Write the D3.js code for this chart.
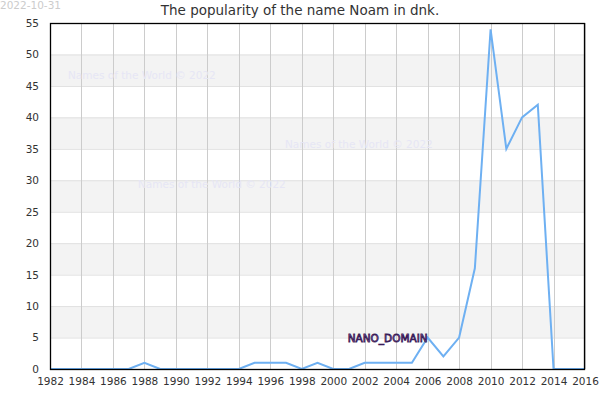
<!DOCTYPE html>
<html>
<head>
<meta charset="utf-8">
<script src="https://cdn.jsdelivr.net/npm/d3@7"></script>
<style>
body { margin: 0; background: #fff; }
svg text { font-family: "DejaVu Sans", sans-serif; }
</style>
</head>
<body>
<div id="chart"></div>
<script>
// values
var years = [1982, 1983, 1984, 1985, 1986, 1987, 1988, 1989, 1990, 1991, 1992, 1993, 1994, 1995, 1996, 1997, 1998, 1999,
  2000, 2001, 2002, 2003, 2004, 2005, 2006, 2007, 2008, 2009, 2010, 2011, 2012, 2013, 2014, 2015, 2016];
var counts = [0, 0, 0, 0, 0, 0, 1, 0, 0, 0, 0, 0, 0, 1, 1, 1, 0, 1,
  0, 0, 1, 1, 1, 1, 5, 2, 5, 16, 54, 35, 40, 42, 0, 0, 0];
var xTicks = d3.range(1982, 2017, 2);
var yTicks = d3.range(0, 56, 5);
var bands = [[5, 10], [15, 20], [25, 30], [35, 40], [45, 50]];
var watermarks = [[68, 75], [285, 144], [138, 184]];

var width = 600, height = 400;
var margin = {top: 23, right: 15, bottom: 31, left: 50};

var svg = d3.select("#chart").append("svg")
  .attr("width", width)
  .attr("height", height);

var x = d3.scaleLinear()
  .domain([1982, 2016])
  .range([margin.left, width - margin.right]);

var y = d3.scaleLinear()
  .domain([0, 55])
  .range([height - margin.bottom, margin.top]);

// shaded bands
svg.append("g").selectAll("rect")
  .data(bands)
  .join("rect")
  .attr("x", margin.left)
  .attr("width", width - margin.right - margin.left)
  .attr("y", function(d) { return y(d[1]); })
  .attr("height", function(d) { return y(d[0]) - y(d[1]); })
  .style("fill", "#f3f3f3");

// horizontal grid
svg.append("g").selectAll("line")
  .data(yTicks)
  .join("line")
  .attr("x1", margin.left)
  .attr("x2", width - margin.right)
  .attr("y1", function(d) { return y(d) + 0.5; })
  .attr("y2", function(d) { return y(d) + 0.5; })
  .style("stroke", "#e0e0e0");

// vertical grid
svg.append("g").selectAll("line")
  .data(xTicks)
  .join("line")
  .attr("x1", function(d) { return Math.round(x(d)) + 0.5; })
  .attr("x2", function(d) { return Math.round(x(d)) + 0.5; })
  .attr("y1", margin.top)
  .attr("y2", height - margin.bottom)
  .style("stroke", "#cccccc");

// watermarks
svg.append("g").selectAll("text")
  .data(watermarks)
  .join("text")
  .attr("x", function(d) { return d[0]; })
  .attr("y", function(d) { return d[1] + 4; })
  .style("font-size", "10.5px")
  .style("fill", "#e6e6f5")
  .text("Names of the World © 2022");

// axes
var xAxis = d3.axisBottom(x).tickValues(xTicks).tickFormat(d3.format("d")).tickSize(0).tickPadding(9);
var yAxis = d3.axisLeft(y).tickValues(yTicks).tickSize(0).tickPadding(11);

var gx = svg.append("g")
  .attr("transform", "translate(0," + (height - margin.bottom) + ")")
  .call(xAxis);
var gy = svg.append("g")
  .attr("transform", "translate(" + margin.left + ",0)")
  .call(yAxis);
[gx, gy].forEach(function(g) {
  g.select(".domain").remove();
  g.selectAll("text").style("font-size", "10.5px").style("fill", "#333").style("font-family", "DejaVu Sans");
});

// line
var line = d3.line()
  .x(function(d, i) { return x(years[i]); })
  .y(function(d) { return y(d); });

svg.append("path")
  .datum(counts)
  .attr("d", line)
  .style("fill", "none")
  .style("stroke", "#6eb0f2")
  .style("stroke-width", 2)
  .style("stroke-linejoin", "miter");

// border
svg.append("rect")
  .attr("x", margin.left + 0.5)
  .attr("y", margin.top + 0.5)
  .attr("width", width - margin.right - margin.left - 1)
  .attr("height", height - margin.bottom - margin.top)
  .style("fill", "none")
  .style("stroke", "#000")
  .style("stroke-width", 1.3);

// point label
var labelYear = 2006;
svg.append("text")
  .attr("x", x(labelYear))
  .attr("y", y(counts[years.indexOf(labelYear)]) + 4)
  .attr("text-anchor", "end")
  .style("font-size", "10.5px")
  .style("fill", "#a07ccc")
  .style("stroke", "#3b1d58")
  .style("stroke-width", 0.8)
  .text("NANO_DOMAIN");

// title
svg.append("text")
  .attr("x", width / 2)
  .attr("y", 15)
  .attr("text-anchor", "middle")
  .style("font-size", "13.5px")
  .style("fill", "#333")
  .text("The popularity of the name Noam in dnk.");

svg.append("text")
  .attr("x", 0)
  .attr("y", 9)
  .style("font-size", "10.5px")
  .style("fill", "#cccccc")
  .text("2022-10-31");
</script>
</body>
</html>
